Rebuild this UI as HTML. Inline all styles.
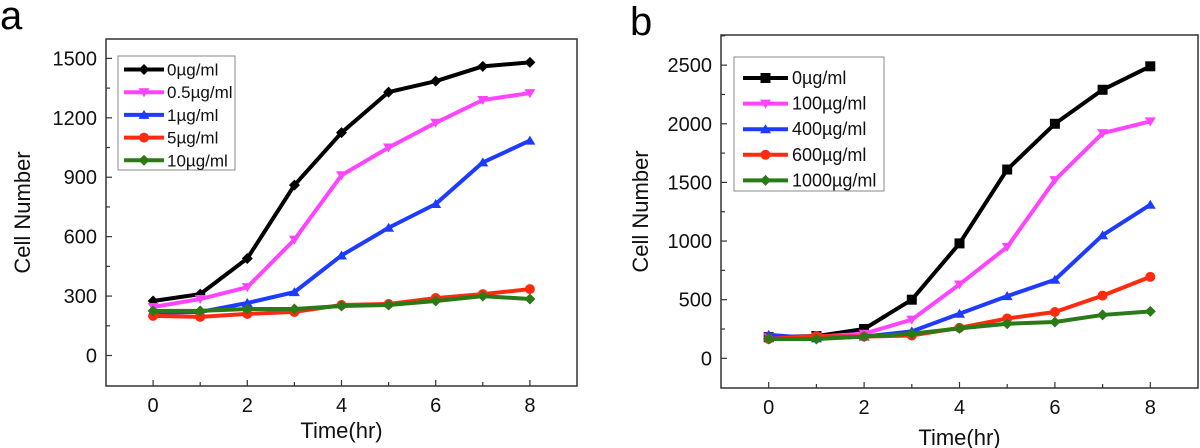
<!DOCTYPE html>
<html><head><meta charset="utf-8"><style>
html,body{margin:0;padding:0;background:#fff;overflow:hidden;}
svg{display:block;font-family:"Liberation Sans",Arial,sans-serif;}
</style></head><body>
<svg id="fig" width="1200" height="448" viewBox="0 0 1200 448" xmlns="http://www.w3.org/2000/svg"></svg>
<script>
const xCats=[0,1,2,3,4,5,6,7,8];
const xTickLabels=[0,2,4,6,8];
const aLabels=["0\u00b5g/ml","0.5\u00b5g/ml","1\u00b5g/ml","5\u00b5g/ml","10\u00b5g/ml"];
const aBlack=[275,310,490,860,1125,1330,1385,1460,1480];
const aMagenta=[245,285,345,585,910,1050,1175,1290,1325];
const aBlue=[215,220,265,320,505,645,765,975,1085];
const aRed=[200,195,210,220,255,260,290,310,335];
const aGreen=[225,225,235,235,250,255,275,300,285];
const aYTicks=[0,300,600,900,1200,1500];
const bLabels=["0\u00b5g/ml","100\u00b5g/ml","400\u00b5g/ml","600\u00b5g/ml","1000\u00b5g/ml"];
const bBlack=[180,190,250,500,980,1610,2000,2290,2490];
const bMagenta=[180,185,210,330,630,950,1520,1920,2020];
const bBlue=[200,170,185,230,380,530,670,1050,1310];
const bRed=[165,190,185,195,260,340,395,535,695];
const bGreen=[165,165,185,210,255,295,310,370,400];
const bYTicks=[0,500,1000,1500,2000,2500];

const NS="http://www.w3.org/2000/svg";
const svg=document.getElementById('fig');
function mk(tag,attrs,parent,text){const e=document.createElementNS(NS,tag);for(const k in attrs)e.setAttribute(k,attrs[k]);if(text!==undefined)e.textContent=text;(parent||svg).appendChild(e);return e;}

function marker(g,type,x,y,color){
  let m;
  if(type==='diamond') m=mk('polygon',{points:`${x},${y-5.5} ${x+5.5},${y} ${x},${y+5.5} ${x-5.5},${y}`,fill:color},g);
  else if(type==='down') m=mk('polygon',{points:`${x-5.5},${y-4} ${x+5.5},${y-4} ${x},${y+5}`,fill:color},g);
  else if(type==='up') m=mk('polygon',{points:`${x-5.5},${y+4} ${x+5.5},${y+4} ${x},${y-5}`,fill:color},g);
  else if(type==='circle') m=mk('circle',{cx:x,cy:y,r:5,fill:color},g);
  else m=mk('rect',{x:x-5,y:y-5,width:10,height:10,fill:color},g);
  
  
}

function panel(cfg){
  const g=mk('g',{},svg);
  
  
  const X=v=>cfg.L+(v-cfg.xmin)/(cfg.xmax-cfg.xmin)*(cfg.R-cfg.L);
  const Y=v=>cfg.B-(v-cfg.ymin)/(cfg.ymax-cfg.ymin)*(cfg.B-cfg.T);
  const lbl=mk('text',{x:cfg.panelX,y:cfg.panelY,'font-size':40,fill:'#000'},g,cfg.id);
  
  
  const fr=mk('rect',{x:cfg.L,y:cfg.T,width:cfg.R-cfg.L,height:cfg.B-cfg.T,fill:'none',stroke:'#333','stroke-width':1.5},g);
  
  
  xCats.forEach(v=>{const len=(v%2===0)?6:4;mk('line',{x1:X(v),x2:X(v),y1:cfg.B,y2:cfg.B-len,stroke:'#333','stroke-width':1.2},g);});
  xTickLabels.forEach(v=>{const t=mk('text',{x:X(v),y:cfg.xLabY,'font-size':20,'text-anchor':'middle',fill:'#111'},g,String(v));
    
    });
  const step=cfg.yTicks[1]-cfg.yTicks[0];
  for(let v=0;v<=cfg.ymax;v+=step/2){const maj=Math.abs(v/step-Math.round(v/step))<1e-6;
    mk('line',{x1:cfg.L,x2:cfg.L+(maj?6:4),y1:Y(v),y2:Y(v),stroke:'#333','stroke-width':1.2},g);}
  cfg.yTicks.forEach(v=>{const t=mk('text',{x:cfg.L-9,y:Y(v)+7,'font-size':20,'text-anchor':'end',fill:'#111'},g,String(v));
    
    });
  const xt=mk('text',{x:(X(0)+X(8))/2,y:cfg.xTitleY,'font-size':22,'text-anchor':'middle',fill:'#111'},g,'Time(hr)');
  
  
  const yt=mk('text',{x:0,y:0,'font-size':22,'text-anchor':'middle',fill:'#111',transform:`translate(${cfg.yTitleX},${(cfg.T+cfg.B)/2}) rotate(-90)`},g,'Cell Number');
  
  
  cfg.series.forEach((s,i)=>{
    const sg=mk('g',{},g);
    
    
    const pts=s.data.map((v,j)=>X(xCats[j])+','+Y(v)).join(' ');
    mk('polyline',{points:pts,fill:'none',stroke:s.color,'stroke-width':4,'stroke-linejoin':'round'},sg);
    s.data.forEach((v,j)=>marker(sg,s.m,X(xCats[j]),Y(v),s.color));
  });
  const lg=mk('g',{},g);
  
  
  mk('rect',{x:cfg.lg.x,y:cfg.lg.y,width:cfg.lg.w,height:cfg.lg.h,fill:'#fff',stroke:'#888','stroke-width':1},lg);
  cfg.series.forEach((s,i)=>{
    const ey=cfg.lg.row0+i*cfg.lg.dy;
    const eg=mk('g',{},lg);
    
    
    mk('line',{x1:cfg.lg.lx1,x2:cfg.lg.lx2,y1:ey,y2:ey,stroke:s.color,'stroke-width':4},eg);
    marker(eg,s.m,(cfg.lg.lx1+cfg.lg.lx2)/2,ey,s.color);
    mk('text',{x:cfg.lg.tx,y:ey+6,'font-size':cfg.lg.fs,fill:'#111'},eg,cfg.labels[i]);
  });
}

panel({id:'a',L:106,R:577,T:39,B:386,xmin:-1,xmax:9,ymin:-154,ymax:1598,panelX:0,panelY:29,
  xLabY:412,xTitleY:438,yTitleX:30,yTicks:aYTicks,labels:aLabels,
  lg:{x:118,y:56,w:117,h:114,row0:69.5,dy:22.7,lx1:124,lx2:164,tx:167,fs:17},
  series:[{data:aBlack,color:'#000',m:'diamond'},{data:aMagenta,color:'#ff44ff',m:'down'},{data:aBlue,color:'#1e3cff',m:'up'},{data:aRed,color:'#ff2a10',m:'circle'},{data:aGreen,color:'#2a7a18',m:'diamond'}]});
panel({id:'b',L:721,R:1198,T:35,B:388,xmin:-1,xmax:9,ymin:-253,ymax:2757,panelX:630,panelY:35,
  xLabY:414,xTitleY:445,yTitleX:648,yTicks:bYTicks,labels:bLabels,
  lg:{x:734,y:57,w:150,h:134,row0:78,dy:25.6,lx1:743,lx2:788,tx:792,fs:18},
  series:[{data:bBlack,color:'#000',m:'square'},{data:bMagenta,color:'#ff44ff',m:'down'},{data:bBlue,color:'#1e3cff',m:'up'},{data:bRed,color:'#ff2a10',m:'circle'},{data:bGreen,color:'#2a7a18',m:'diamond'}]});
</script>
</body></html>
